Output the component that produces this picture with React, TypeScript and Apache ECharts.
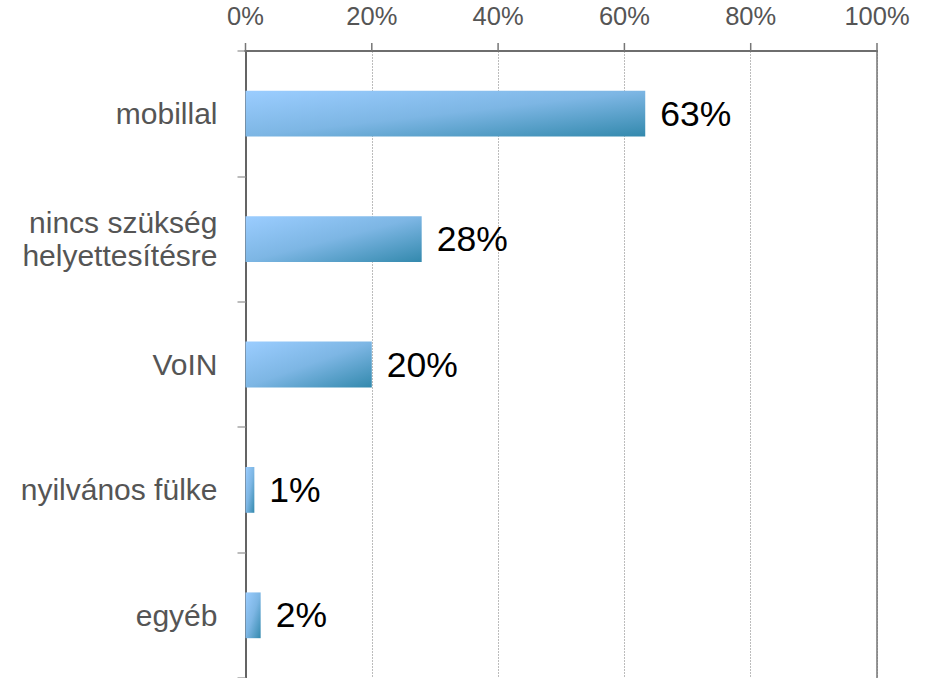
import React, { useEffect, useRef } from "react";
import * as echarts from "echarts";

const categories = ["mobillal", "nincs szükség\nhelyettesítésre", "VoIN", "nyilvános fülke", "egyéb"];
const values = [63.3, 27.9, 20, 1.4, 2.4];
const axisMin = 0;
const axisMax = 100;
const axisStep = 20;
const tickValues = [0, 20, 40, 60, 80, 100];

export default function App() {
  const ref = useRef<HTMLDivElement>(null);
  useEffect(() => {
    if (!ref.current) return;
    const chart = echarts.init(ref.current, null, { renderer: "svg" });
    const font = "'Liberation Sans', Arial, sans-serif";
    const gridTop = 51;
    chart.setOption({
      animation: false,
      backgroundColor: "#ffffff",
      textStyle: { fontFamily: font },
      grid: { left: 245.5, right: 49, top: gridTop, bottom: -3, containLabel: false },
      xAxis: {
        type: "value",
        position: "top",
        min: axisMin,
        max: axisMax,
        interval: axisStep,
        axisLabel: {
          formatter: "{value}%",
          color: "#555555",
          fontSize: 25.5,
          fontFamily: font,
          margin: 22,
        },
        axisLine: { show: false },
        axisTick: { show: false },
        splitLine: { show: true, lineStyle: { color: "#bcbcbc", type: [2, 1], width: 1 } },
      },
      yAxis: [
        {
          type: "category",
          inverse: true,
          data: categories,
          boundaryGap: true,
          axisLabel: {
            color: "#555555",
            fontSize: 30,
            lineHeight: 33,
            fontFamily: font,
            margin: 28,
            align: "right",
          },
          axisLine: { show: true, onZero: false, lineStyle: { color: "#646464", width: 2 } },
          axisTick: { show: true, length: 8, lineStyle: { color: "#a6a6a6", width: 1.5 } },
          splitLine: { show: false },
        },
        {
          type: "category",
          inverse: true,
          position: "right",
          data: categories,
          axisLabel: { show: false },
          axisLine: { show: true, onZero: false, lineStyle: { color: "#767676", width: 1.5 } },
          axisTick: { show: false },
          splitLine: { show: false },
        },
      ],
      series: [
        {
          type: "bar",
          xAxisIndex: 0,
          yAxisIndex: 0,
          data: values,
          barWidth: "36.5%",
          itemStyle: {
            color: new echarts.graphic.LinearGradient(0, 0, 1, 1, [
              { offset: 0, color: "#9bcdff" },
              { offset: 0.5, color: "#7db6e4" },
              { offset: 1, color: "#3389ad" },
            ]),
          },
          label: {
            show: true,
            position: "right",
            distance: 15,
            color: "#000000",
            fontSize: 35.5,
            fontFamily: font,
            formatter: (p: any) => Math.round(p.value) + "%",
          },
        },
      ],
    });
    const px = (v: number) => chart.convertToPixel({ xAxisIndex: 0 }, v) as number;
    const x0 = px(axisMin);
    const x1 = px(axisMax);
    const elements: any[] = [
      {
        type: "line",
        shape: { x1: x0 - 1, y1: gridTop, x2: x1 + 1, y2: gridTop },
        style: { stroke: "#6e6e6e", lineWidth: 2 },
        z: 10,
      },
    ];
    tickValues.forEach((t) => {
      const x = px(t);
      elements.push({
        type: "line",
        shape: { x1: x, y1: gridTop - 8, x2: x, y2: gridTop },
        style: { stroke: "#767676", lineWidth: 1.5 },
        z: 10,
      });
    });
    chart.setOption({ graphic: elements });
    return () => chart.dispose();
  }, []);
  return <div ref={ref} style={{ width: 926, height: 678, position: "absolute", left: 0, top: 0 }} />;
}
